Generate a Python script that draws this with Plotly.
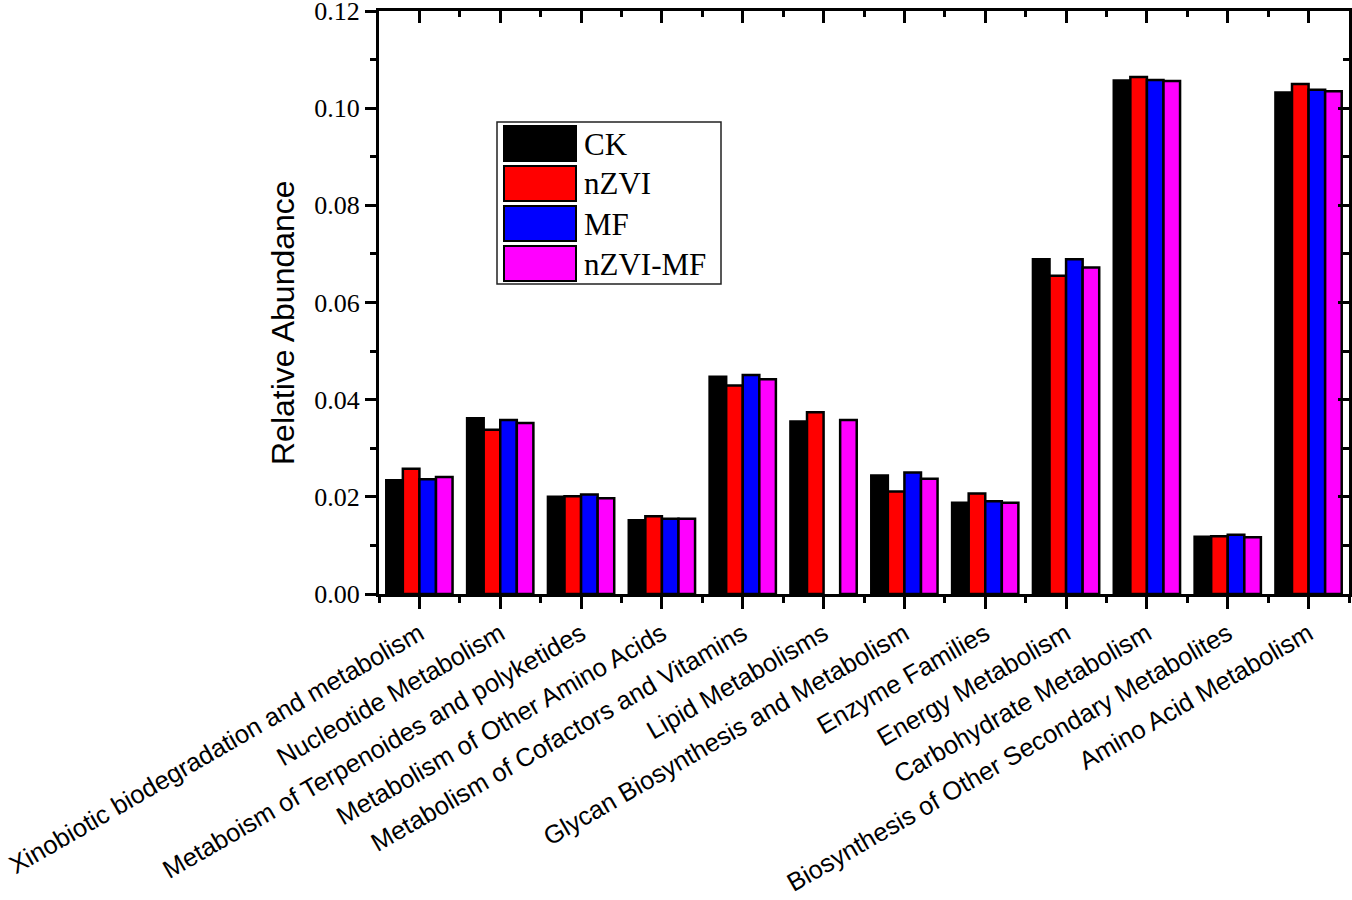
import plotly.graph_objects as go

categories = [
    "Xinobiotic biodegradation and metabolism",
    "Nucleotide Metabolism",
    "Metaboism of Terpenoides and polyketides",
    "Metabolism of Other Amino Acids",
    "Metabolism of Cofactors and Vitamins",
    "Lipid Metabolisms",
    "Glycan Biosynthesis and Metabolism",
    "Enzyme Families",
    "Energy Metabolism",
    "Carbohydrate Metabolism",
    "Biosynthesis of Other Secondary Metabolites",
    "Amino Acid Metabolism",
]

series_names = ["CK", "nZVI", "MF", "nZVI-MF"]
ck      = [0.0234, 0.0362, 0.0200, 0.0152, 0.0447, 0.0355, 0.0244, 0.0188, 0.0689, 0.1057, 0.0118, 0.1032]
nzvi    = [0.0258, 0.0338, 0.0201, 0.0160, 0.0429, 0.0374, 0.0211, 0.0207, 0.0655, 0.1064, 0.0119, 0.1050]
mf      = [0.0236, 0.0358, 0.0205, 0.0155, 0.0451, None,   0.0250, 0.0191, 0.0689, 0.1058, 0.0122, 0.1038]
nzvi_mf = [0.0241, 0.0352, 0.0197, 0.0155, 0.0442, 0.0358, 0.0237, 0.0188, 0.0672, 0.1056, 0.0117, 0.1035]
colors = ["#000000", "#ff0000", "#0000ff", "#ff00ff"]

y_ticks = [0.00, 0.02, 0.04, 0.06, 0.08, 0.10, 0.12]
y_title = "Relative Abundance"

W, H = 1352, 900
ML, MR, MT, MB = 379, 3, 11, 306
PW = W - ML - MR
PH = H - MT - MB

positions = list(range(len(categories)))

fig = go.Figure()
for name, vals, col in zip(series_names, [ck, nzvi, mf, nzvi_mf], colors):
    fig.add_trace(go.Bar(
        x=positions, y=vals, name=name,
        marker=dict(color=col, line=dict(color="black", width=2.5)),
        showlegend=False,
    ))

# helper trace for the mirrored top/right axes
fig.add_trace(go.Scatter(x=[None], y=[None], xaxis="x2", yaxis="y2",
                         showlegend=False, hoverinfo="skip"))

xr = [-0.5, len(categories) - 0.5]
yr = [0, 0.12 + 1e-9]

fig.update_layout(
    width=W, height=H,
    margin=dict(l=ML, r=MR, t=MT, b=MB, autoexpand=False),
    paper_bgcolor="white", plot_bgcolor="white",
    barmode="group", bargap=0.18, bargroupgap=0,
    xaxis=dict(
        range=xr, tickmode="array", tickvals=positions, ticktext=categories,
        tickangle=-30, ticks="outside", ticklen=12, tickwidth=3, tickcolor="black",
        showline=True, linewidth=3, linecolor="black", showgrid=False, zeroline=False,
        automargin=False, ticklabeloverflow="allow",
        tickfont=dict(family="Liberation Sans, Arial", size=25.5, color="black"),
        minor=dict(tickmode="linear", tick0=-0.5, dtick=1, ticks="outside",
                   ticklen=6, tickwidth=3, tickcolor="black", showgrid=False),
    ),
    yaxis=dict(
        range=yr, tickmode="array", tickvals=y_ticks, tickformat=".2f",
        ticks="outside", ticklen=11, tickwidth=3, tickcolor="black",
        showline=True, linewidth=3, linecolor="black", showgrid=False, zeroline=False,
        automargin=False, ticklabeloverflow="allow",
        tickfont=dict(family="Liberation Serif, Times New Roman", size=26, color="black"),
        minor=dict(tickmode="linear", tick0=0, dtick=0.01, ticks="outside",
                   ticklen=6, tickwidth=3, tickcolor="black", showgrid=False),
    ),
    xaxis2=dict(
        overlaying="x", side="top", range=xr, tickmode="array", tickvals=positions,
        showticklabels=False, ticks="inside", ticklen=12, tickwidth=3, tickcolor="black",
        showline=True, linewidth=3, linecolor="black", showgrid=False, zeroline=False,
        automargin=False,
        minor=dict(tickmode="linear", tick0=-0.5, dtick=1, ticks="inside",
                   ticklen=6, tickwidth=3, tickcolor="black", showgrid=False),
    ),
    yaxis2=dict(
        overlaying="y", side="right", range=yr, tickmode="array", tickvals=y_ticks,
        showticklabels=False, ticks="inside", ticklen=11, tickwidth=3, tickcolor="black",
        showline=True, linewidth=3, linecolor="black", showgrid=False, zeroline=False,
        automargin=False,
        minor=dict(tickmode="linear", tick0=0, dtick=0.01, ticks="inside",
                   ticklen=6, tickwidth=3, tickcolor="black", showgrid=False),
    ),
)

# pixel positions converted to paper coordinates (legend and y title placement)
def px(xp):
    return (xp - ML) / PW

def py(yp):
    return (H - MB - yp) / PH

annotations = [dict(xref="paper", yref="paper", x=px(283), y=py(323), text=y_title,
                    textangle=-90, showarrow=False, xanchor="center", yanchor="middle",
                    font=dict(family="Liberation Sans, Arial", size=32, color="black"))]

shapes = [dict(type="rect", xref="paper", yref="paper",
               x0=px(497), x1=px(721), y0=py(284), y1=py(122),
               line=dict(color="#222222", width=1.5), fillcolor="white", layer="above")]
row_top = 126
row_pitch = 40
for i, (name, col) in enumerate(zip(series_names, colors)):
    t = row_top + i * row_pitch
    shapes.append(dict(type="rect", xref="paper", yref="paper",
                       x0=px(504), x1=px(576), y0=py(t + 35), y1=py(t),
                       line=dict(color="black", width=2), fillcolor=col, layer="above"))
    annotations.append(dict(xref="paper", yref="paper", x=px(582), y=py(t + 18),
                            text=name, showarrow=False, xanchor="left", yanchor="middle",
                            font=dict(family="Liberation Serif, Times New Roman", size=31,
                                      color="black")))
fig.update_layout(shapes=shapes, annotations=annotations)

fig.write_html("out.html", config={"displayModeBar": False},
               post_script="document.body.style.margin='0px';")
